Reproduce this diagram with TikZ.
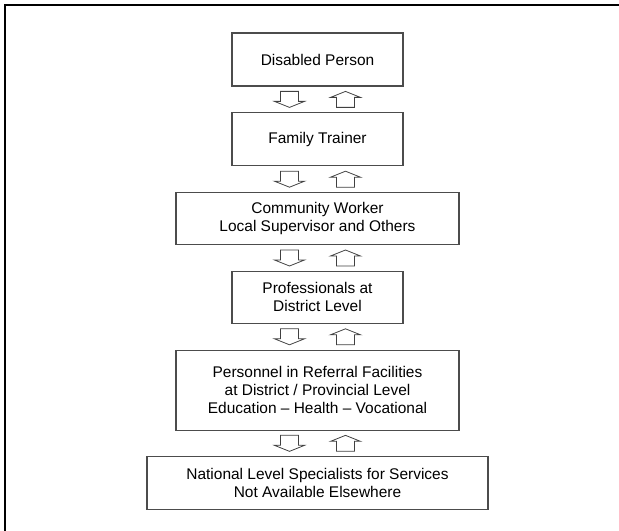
\documentclass[tikz,border=0pt]{standalone}
\usepackage{fontspec}
\setmainfont{Liberation Sans}
\usetikzlibrary{positioning, calc}

\begin{document}
\begin{tikzpicture}[
  x=0.75pt, y=-0.75pt,
  box/.style={rectangle, draw=black!70, line width=0.9pt, align=center, minimum height=39.75pt, inner sep=2pt, font=\fontsize{11.6}{13.5}\selectfont},
  blockarrow/.style={draw=black!75, line width=0.6pt, fill=white}
]
  \useasboundingbox (0,0) rectangle (619,531);
  % outer frame, cut off at right and bottom
  \draw[line width=1.3pt] (5,650) -- (5,5) -- (700,5);

  \node[box, minimum width=128.25pt] (person) at (317.5,59.5) {Disabled Person};
  \node[box, minimum width=128.25pt, below=19.2pt of person] (trainer) {Family Trainer};
  \node[box, minimum width=212.25pt, minimum height=39pt, below=19.2pt of trainer] (community) {Community Worker\\Local Supervisor and Others};
  \node[box, minimum width=128.25pt, minimum height=39pt, below=19.2pt of community] (district) {Professionals at\\District Level};
  \node[box, minimum width=212.25pt, minimum height=60pt, below=19.2pt of district] (referral) {Personnel in Referral Facilities\\at District / Provincial Level\\Education – Health – Vocational};
  \node[box, minimum width=255.75pt, minimum height=39.75pt, below=18.8pt of referral] (national) {National Level Specialists for Services\\Not Available Elsewhere};

  % referral up and down between levels
  \foreach \a/\b in {person/trainer, trainer/community, community/district, district/referral, referral/national} {
    \coordinate (mid) at ($(\a.south)!0.5!(\b.north)$);
    \draw[blockarrow] ($(mid)+(-37,-8)$) -- ++(18,0) -- ++(0,10) -- ++(6,0) -- ++(-15,6) -- ++(-15,-6) -- ++(6,0) -- cycle;
    \draw[blockarrow] ($(mid)+(19,8)$) -- ++(18,0) -- ++(0,-10) -- ++(6,0) -- ++(-15,-6) -- ++(-15,6) -- ++(6,0) -- cycle;
  }
\end{tikzpicture}
\end{document}
